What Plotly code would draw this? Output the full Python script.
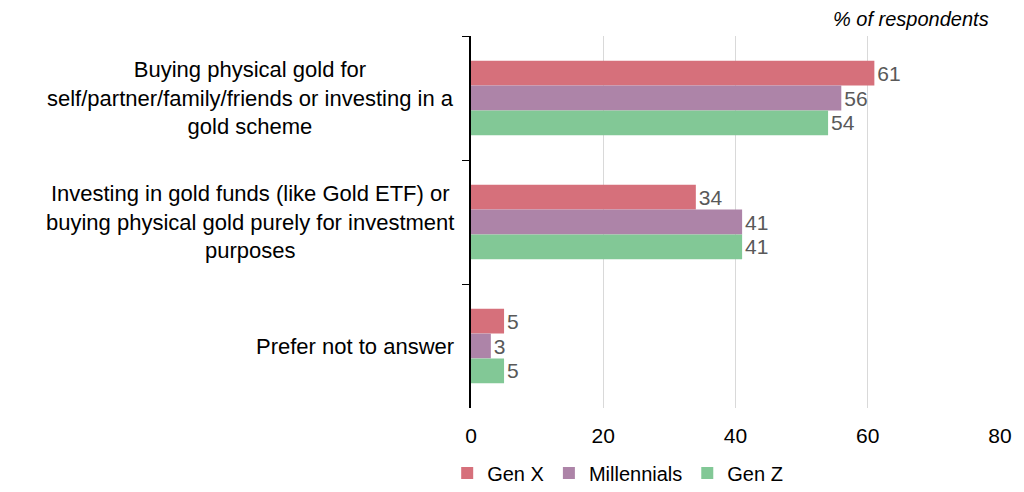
import plotly.graph_objects as go

categories = [
    "Buying physical gold for<br>self/partner/family/friends or investing in a<br>gold scheme",
    "Investing in gold funds (like Gold ETF) or<br>buying physical gold purely for investment<br>purposes",
    "Prefer not to answer",
]
series_names = ["Gen X", "Millennials", "Gen Z"]
gen_x = [61, 34, 5]
millennials = [56, 41, 3]
gen_z = [54, 41, 5]
x_ticks = [0, 20, 40, 60, 80]

colors = ["#d6707b", "#ad84a8", "#82c896"]

FONT = "Liberation Sans, Arial, sans-serif"
fig = go.Figure()
for name, vals, col in zip(series_names, [gen_x, millennials, gen_z], colors):
    fig.add_trace(go.Bar(
        y=categories, x=vals, name=name, orientation="h",
        marker=dict(color=col, line=dict(width=0)),
        text=[str(v) for v in vals], textposition="outside",
        textfont=dict(size=21, color="#595959", family=FONT),
        cliponaxis=False,
    ))

for cat in categories:
    fig.add_annotation(x=0, xref="paper", y=cat, yref="y", text=cat,
                       xanchor="right", align="center", xshift=-15,
                       showarrow=False, font=dict(size=22, color="#000000", family=FONT))

fig.add_annotation(x=1, xref="paper", y=1, yref="paper", yshift=17,
                   text="<i>% of respondents</i>", showarrow=False,
                   xanchor="right", yanchor="middle", xshift=-9,
                   font=dict(size=20, color="#000000", family=FONT))

fig.update_layout(
    width=1024, height=492,
    margin=dict(l=463, r=32, t=28, b=92, autoexpand=False),
    barmode="group", bargap=0.4, bargroupgap=0,
    plot_bgcolor="white", paper_bgcolor="white",
    font=dict(family=FONT, size=20, color="#000000"),
    showlegend=True,
    legend=dict(orientation="h", x=-0.045, xanchor="left",
                yref="container", y=0.055, yanchor="middle",
                font=dict(size=20, color="#000000"), itemwidth=30, traceorder="normal"),
    xaxis=dict(range=[0, 80], tickvals=x_ticks, showgrid=True, gridcolor="#d9d9d9",
               gridwidth=1, zeroline=False, showline=False, ticks="",
               ticklabelstandoff=13, automargin=False,
               tickfont=dict(size=21, color="#000000")),
    yaxis=dict(autorange="reversed", showticklabels=False, showline=True,
               linecolor="#000000", linewidth=1.5, ticks="outside", ticklen=7,
               tickcolor="#000000", tickson="boundaries", showgrid=False),
)
fig.write_html("out.html")
